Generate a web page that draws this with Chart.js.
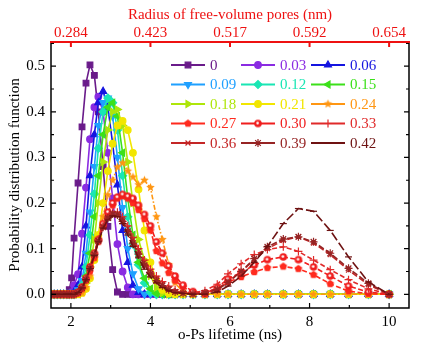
<!DOCTYPE html>
<html>
<head>
<meta charset="utf-8">
<script src="https://cdn.jsdelivr.net/npm/chart.js@4/dist/chart.umd.min.js"></script>
<style>
  html, body { margin: 0; padding: 0; background: #fff; }
  #wrap { width: 433px; height: 348px; }
</style>
</head>
<body>
<div id="wrap"><canvas id="pdf" width="433" height="348"></canvas></div>
<script>
// lifetime grid (ns) shared by every curve
const lifetimes = [
  1.50, 1.58, 1.66, 1.74, 1.82, 1.90, 1.96, 2.02, 2.08, 2.18, 2.28,
  2.38, 2.48, 2.59, 2.69, 2.81, 2.93, 3.05, 3.17, 3.30, 3.43, 3.56,
  3.70, 3.85, 4.00, 4.15, 4.30, 4.46, 4.62, 4.82, 5.07, 5.37, 5.68,
  5.95, 6.28, 6.61, 6.94, 7.34, 7.72, 8.10, 8.52, 8.98, 9.48, 10.00
];

const seriesNames = ['0', '0.03', '0.06', '0.09', '0.12', '0.15', '0.18', '0.21',
                     '0.24', '0.27', '0.30', '0.33', '0.36', '0.39', '0.42'];

const pdf_000 = [
  0, 0, 0, 0, 0, 0, 0.010, 0.036, 0.123, 0.244, 0.367,
  0.463, 0.503, 0.480, 0.400, 0.280, 0.149, 0.054, 0.005, 0, 0, 0,
  0, 0, 0, 0, 0, 0, 0, 0, 0, 0, 0,
  0, 0, 0, 0, 0, 0, 0, 0, 0, 0, 0
];
const pdf_003 = [
  0, 0, 0, 0, 0, 0, 0, 0.005, 0.020, 0.044, 0.133,
  0.234, 0.340, 0.410, 0.433, 0.400, 0.310, 0.210, 0.110, 0.050, 0.015, 0,
  0, 0, 0, 0, 0, 0, 0, 0, 0, 0, 0,
  0, 0, 0, 0, 0, 0, 0, 0, 0, 0, 0
];
const pdf_006 = [
  0, 0, 0, 0, 0, 0, 0, 0, 0.005, 0.020, 0.060,
  0.150, 0.260, 0.350, 0.420, 0.445, 0.410, 0.330, 0.240, 0.140, 0.070, 0.020,
  0.004, 0, 0, 0, 0, 0, 0, 0, 0, 0, 0,
  0, 0, 0, 0, 0, 0, 0, 0, 0, 0, 0
];
const pdf_009 = [
  0, 0, 0, 0, 0, 0, 0, 0, 0, 0.010, 0.030,
  0.090, 0.180, 0.280, 0.370, 0.420, 0.430, 0.390, 0.300, 0.190, 0.100, 0.045,
  0.012, 0, 0, 0, 0, 0, 0, 0, 0, 0, 0,
  0, 0, 0, 0, 0, 0, 0, 0, 0, 0, 0
];
const pdf_012 = [
  0, 0, 0, 0, 0, 0, 0, 0, 0, 0.005, 0.020,
  0.060, 0.130, 0.220, 0.320, 0.400, 0.430, 0.420, 0.360, 0.260, 0.170, 0.110,
  0.065, 0.025, 0.005, 0, 0, 0, 0, 0, 0, 0, 0,
  0, 0, 0, 0, 0, 0, 0, 0, 0, 0, 0
];
const pdf_015 = [
  0, 0, 0, 0, 0, 0, 0, 0, 0, 0, 0.010,
  0.040, 0.090, 0.170, 0.260, 0.350, 0.410, 0.420, 0.390, 0.310, 0.210, 0.130,
  0.070, 0.035, 0.012, 0.002, 0, 0, 0, 0, 0, 0, 0,
  0, 0, 0, 0, 0, 0, 0, 0, 0, 0, 0
];
const pdf_018 = [
  0, 0, 0, 0, 0, 0, 0, 0, 0, 0, 0.005,
  0.025, 0.060, 0.120, 0.200, 0.290, 0.360, 0.400, 0.405, 0.370, 0.290, 0.200,
  0.120, 0.075, 0.040, 0.015, 0.003, 0, 0, 0, 0, 0, 0,
  0, 0, 0, 0, 0, 0, 0, 0, 0, 0, 0
];
const pdf_021 = [
  0, 0, 0, 0, 0, 0, 0, 0, 0, 0, 0.003,
  0.012, 0.035, 0.075, 0.130, 0.200, 0.270, 0.330, 0.370, 0.380, 0.360, 0.310,
  0.230, 0.140, 0.070, 0.030, 0.010, 0.002, 0, 0, 0, 0, 0,
  0, 0, 0, 0, 0, 0, 0, 0, 0, 0, 0
];
const pdf_024 = [
  0, 0, 0, 0, 0, 0, 0, 0, 0, 0, 0.003,
  0.015, 0.040, 0.080, 0.120, 0.170, 0.218, 0.250, 0.279, 0.288, 0.270, 0.257,
  0.240, 0.250, 0.234, 0.170, 0.120, 0.065, 0.025, 0.005, 0, 0, 0,
  0, 0, 0, 0, 0, 0, 0, 0, 0, 0, 0
];
const pdf_027 = [
  0, 0, 0, 0, 0, 0, 0, 0, 0, 0.003, 0.012,
  0.030, 0.050, 0.080, 0.115, 0.150, 0.175, 0.195, 0.210, 0.215, 0.210, 0.200,
  0.185, 0.165, 0.140, 0.095, 0.068, 0.047, 0.030, 0.016, 0.004, 0, 0.012,
  0.027, 0.038, 0.049, 0.058, 0.061, 0.056, 0.043, 0.023, 0.007, 0.001, 0
];
const pdf_030 = [
  0, 0, 0, 0, 0, 0, 0, 0, 0, 0.005, 0.016,
  0.035, 0.060, 0.090, 0.120, 0.155, 0.180, 0.200, 0.213, 0.219, 0.215, 0.210,
  0.195, 0.175, 0.150, 0.115, 0.090, 0.062, 0.040, 0.020, 0.006, 0.002, 0.015,
  0.034, 0.048, 0.064, 0.076, 0.082, 0.076, 0.060, 0.040, 0.018, 0.005, 0
];
const pdf_033 = [
  0, 0, 0, 0, 0, 0, 0, 0, 0, 0.004, 0.015,
  0.035, 0.060, 0.090, 0.120, 0.150, 0.170, 0.180, 0.180, 0.170, 0.150, 0.125,
  0.100, 0.075, 0.055, 0.040, 0.028, 0.018, 0.010, 0.006, 0.003, 0.008, 0.022,
  0.045, 0.067, 0.087, 0.098, 0.104, 0.094, 0.075, 0.054, 0.032, 0.012, 0
];
const pdf_036 = [
  0, 0, 0, 0, 0, 0, 0, 0, 0, 0.004, 0.014,
  0.033, 0.058, 0.088, 0.118, 0.148, 0.168, 0.178, 0.177, 0.165, 0.145, 0.120,
  0.095, 0.070, 0.050, 0.035, 0.022, 0.012, 0.006, 0.003, 0.001, 0.004, 0.012,
  0.028, 0.050, 0.075, 0.100, 0.118, 0.126, 0.112, 0.087, 0.053, 0.021, 0
];
const pdf_039 = [
  0, 0, 0, 0, 0, 0, 0, 0, 0, 0.004, 0.014,
  0.032, 0.057, 0.087, 0.117, 0.147, 0.167, 0.176, 0.174, 0.160, 0.138, 0.112,
  0.088, 0.064, 0.045, 0.030, 0.019, 0.010, 0.005, 0.002, 0, 0.003, 0.010,
  0.026, 0.050, 0.078, 0.104, 0.121, 0.126, 0.115, 0.090, 0.057, 0.024, 0
];
const pdf_042 = [
  0, 0, 0, 0, 0, 0, 0, 0, 0, 0.004, 0.014,
  0.032, 0.056, 0.085, 0.115, 0.145, 0.163, 0.172, 0.170, 0.155, 0.130, 0.105,
  0.080, 0.055, 0.038, 0.025, 0.015, 0.008, 0.004, 0.002, 0, 0, 0.005,
  0.018, 0.040, 0.070, 0.105, 0.155, 0.188, 0.182, 0.140, 0.082, 0.027, 0
];

const seriesValues = [pdf_000, pdf_003, pdf_006, pdf_009, pdf_012, pdf_015, pdf_018, pdf_021,
                      pdf_024, pdf_027, pdf_030, pdf_033, pdf_036, pdf_039, pdf_042];

const bottomTicks = [2, 4, 6, 8, 10];
const radiusLabels = ['0.284', '0.423', '0.517', '0.592', '0.654'];
const yTicks = [0, 0.1, 0.2, 0.3, 0.4, 0.5];

// styles
const colors = ['#6a1b8a', '#8a2be2', '#1515e0', '#1fa0ff', '#19e6b4', '#3ce01a', '#aee60a', '#f2e600',
                '#ff9612', '#ff2a1e', '#f01e1e', '#e02a2a', '#c42626', '#962424', '#6e1212'];
const dashes = [[], [], [], [], [], [], [], [],
                [5, 2, 1.5, 2], [5, 2.5], [5, 2.5], [5, 2.5], [6, 2.5], [6, 2.5], [9, 3]];

function markerCanvas(kind, color, r) {
  const c = document.createElement('canvas');
  const s = Math.ceil(r * 2 + 2);
  c.width = c.height = s;
  const g = c.getContext('2d');
  const cx = s / 2, cy = s / 2;
  g.fillStyle = color;
  g.beginPath();
  if (kind === 'star') {
    for (let i = 0; i < 10; i++) {
      const a = -Math.PI / 2 + i * Math.PI / 5;
      const rr = i % 2 ? r * 0.45 : r;
      g.lineTo(cx + rr * Math.cos(a), cy + rr * Math.sin(a));
    }
  } else if (kind === 'pentagon') {
    for (let i = 0; i < 5; i++) {
      const a = -Math.PI / 2 + i * 2 * Math.PI / 5;
      g.lineTo(cx + r * Math.cos(a), cy + r * Math.sin(a));
    }
  } else {
    g.arc(cx, cy, r, 0, Math.PI * 2);
  }
  g.closePath();
  g.fill();
  if (kind === 'dotball') {
    g.fillStyle = '#fff';
    g.beginPath();
    g.arc(cx - r * 0.1, cy - r * 0.1, r * 0.35, 0, Math.PI * 2);
    g.fill();
  }
  return c;
}

const markers = [
  { style: 'rect', rot: 0, r: 4 },
  { style: 'circle', rot: 0, r: 3.3 },
  { style: 'triangle', rot: 0, r: 4 },
  { style: 'triangle', rot: 180, r: 4 },
  { style: 'rectRot', rot: 0, r: 4 },
  { style: 'triangle', rot: -90, r: 4 },
  { style: 'triangle', rot: 90, r: 4 },
  { style: 'circle', rot: 0, r: 3.3 },
  { style: markerCanvas('star', colors[8], 4.5), rot: 0, r: 4.5 },
  { style: markerCanvas('pentagon', colors[9], 4), rot: 0, r: 4 },
  { style: markerCanvas('dotball', colors[10], 3.8), rot: 0, r: 3.8 },
  { style: 'cross', rot: 0, r: 4 },
  { style: 'crossRot', rot: 0, r: 3.5 },
  { style: 'star', rot: 0, r: 4 },
  { style: 'line', rot: 0, r: 3.5 }
];

const datasets = seriesValues.map((vals, i) => ({
  label: seriesNames[i],
  data: lifetimes.map((x, j) => ({ x: x, y: vals[j] })),
  borderColor: colors[i],
  backgroundColor: colors[i],
  borderWidth: 1.6,
  borderDash: dashes[i],
  pointStyle: markers[i].style,
  pointRotation: markers[i].rot,
  pointRadius: markers[i].r,
  pointBorderWidth: 1.2,
  tension: 0,
  order: -i
}));

const frame = {
  id: 'frame',
  afterDraw(chart) {
    const ctx = chart.ctx;
    const a = chart.chartArea;
    const sx = chart.scales.x, sy = chart.scales.y;
    ctx.save();
    ctx.strokeStyle = '#000';
    ctx.lineWidth = 1.5;
    ctx.beginPath();
    ctx.moveTo(a.left, a.top);
    ctx.lineTo(a.left, a.bottom);
    ctx.lineTo(a.right, a.bottom);
    ctx.lineTo(a.right, a.top);
    ctx.stroke();
    ctx.lineWidth = 1.2;
    ctx.beginPath();
    for (let v = 2; v <= 10; v++) {
      const px = sx.getPixelForValue(v);
      const len = v % 2 === 0 ? 5 : 3;
      ctx.moveTo(px, a.bottom);
      ctx.lineTo(px, a.bottom - len);
    }
    for (let k = 0; k <= 11; k++) {
      const py = sy.getPixelForValue(k * 0.05);
      const len = k % 2 === 0 ? 5 : 3;
      ctx.moveTo(a.left, py);
      ctx.lineTo(a.left + len, py);
      ctx.moveTo(a.right, py);
      ctx.lineTo(a.right - len, py);
    }
    ctx.stroke();
    ctx.strokeStyle = '#ee1111';
    ctx.lineWidth = 2;
    ctx.beginPath();
    ctx.moveTo(a.left - 1, a.top);
    ctx.lineTo(a.right + 1, a.top);
    bottomTicks.forEach(v => {
      const px = sx.getPixelForValue(v);
      ctx.moveTo(px, a.top);
      ctx.lineTo(px, a.top + 5);
    });
    ctx.stroke();
    ctx.restore();
  }
};

const legendBox = {
  id: 'legendBox',
  afterDraw(chart) {
    const ctx = chart.ctx;
    const colX = [171, 241, 311];
    ctx.save();
    ctx.font = "15px 'Liberation Serif', 'Times New Roman', serif";
    ctx.textBaseline = 'middle';
    seriesNames.forEach((name, i) => {
      const x0 = colX[i % 3];
      const y = 65 + Math.floor(i / 3) * 19.5;
      ctx.strokeStyle = colors[i];
      ctx.fillStyle = colors[i];
      ctx.lineWidth = 1.8;
      ctx.beginPath();
      ctx.moveTo(x0, y);
      ctx.lineTo(x0 + 34, y);
      ctx.stroke();
      ctx.lineWidth = 1.2;
      Chart.helpers.drawPoint(ctx, {
        pointStyle: markers[i].style,
        rotation: markers[i].rot,
        radius: markers[i].r,
        borderWidth: 1.2
      }, x0 + 17, y);
      ctx.fillStyle = colors[i];
      ctx.fillText(name, x0 + 39, y + 1);
    });
    ctx.restore();
  }
};

Chart.defaults.font.family = "'Liberation Serif', 'Times New Roman', serif";
Chart.defaults.font.size = 15;
Chart.defaults.color = '#000';

new Chart(document.getElementById('pdf').getContext('2d'), {
  type: 'line',
  data: { datasets },
  options: {
    responsive: false,
    animation: false,
    layout: { padding: { right: 24 } },
    plugins: { legend: { display: false }, tooltip: { enabled: false } },
    scales: {
      x: {
        type: 'linear',
        position: 'bottom',
        min: 1.5,
        max: 10.5,
        afterBuildTicks: s => { s.ticks = bottomTicks.map(v => ({ value: v })); },
        afterFit: s => { s.height = 40; },
        grid: { display: false, drawTicks: false },
        border: { display: false },
        ticks: { padding: 5, maxRotation: 0, color: '#000' },
        title: { display: true, text: 'o-Ps lifetime (ns)', color: '#000', padding: { top: 0, bottom: 4 } }
      },
      x2: {
        type: 'linear',
        position: 'top',
        min: 1.5,
        max: 10.5,
        afterBuildTicks: s => { s.ticks = bottomTicks.map(v => ({ value: v })); },
        afterFit: s => { s.height = 42; },
        grid: { display: false, drawTicks: false },
        border: { display: false },
        ticks: {
          padding: 0,
          maxRotation: 0,
          color: '#ee1111',
          callback: v => radiusLabels[bottomTicks.indexOf(v)]
        },
        title: { display: true, text: 'Radius of free-volume pores (nm)', color: '#ee1111', padding: { top: 6, bottom: 0 } }
      },
      y: {
        type: 'linear',
        position: 'left',
        min: -0.03,
        max: 0.553,
        afterBuildTicks: s => { s.ticks = yTicks.map(v => ({ value: v })); },
        afterFit: s => { s.width = 51; },
        grid: { display: false, drawTicks: false },
        border: { display: false },
        ticks: { padding: 6, color: '#000', callback: v => v.toFixed(1) },
        title: { display: true, text: 'Probability distribution function', color: '#000', padding: { top: 6, bottom: 0 } }
      }
    }
  },
  plugins: [frame, legendBox]
});
</script>
</body>
</html>
